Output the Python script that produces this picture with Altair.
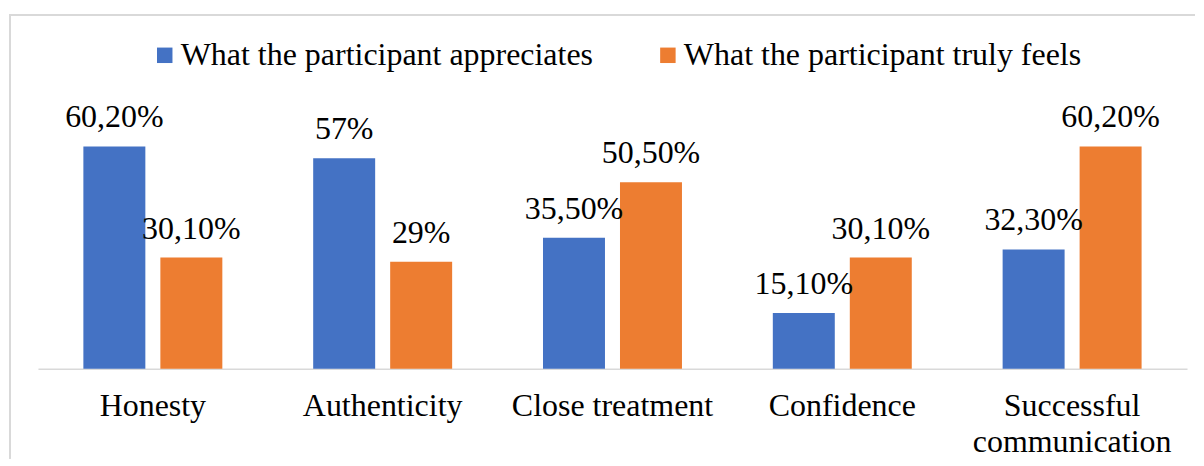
import altair as alt
import pandas as pd

categories = ["Honesty", "Authenticity", "Close treatment", "Confidence", "Successful communication"]
series = ["What the participant appreciates", "What the participant truly feels"]
appreciates = [60.2, 57.0, 35.5, 15.1, 32.3]
truly_feels = [30.1, 29.0, 50.5, 30.1, 60.2]
appreciates_labels = ["60,20%", "57%", "35,50%", "15,10%", "32,30%"]
truly_feels_labels = ["30,10%", "29%", "50,50%", "30,10%", "60,20%"]
colors = ["#4472C4", "#ED7D31"]

rows = []
for i, c in enumerate(categories):
    rows.append({"category": c, "series": series[0], "value": appreciates[i], "label": appreciates_labels[i]})
    rows.append({"category": c, "series": series[1], "value": truly_feels[i], "label": truly_feels_labels[i]})
df = pd.DataFrame(rows)

FONT = "'Liberation Serif', 'Times New Roman', Times, serif"
FS = 32
W, H = 1188, 445

x = alt.X(
    "category:N",
    sort=categories,
    scale=alt.Scale(range=[29, 1180], paddingInner=0, paddingOuter=0),
    axis=alt.Axis(
        title=None, ticks=False, grid=False, labelAngle=0, offset=-90,
        domainColor="#d9d9d9", domainWidth=1.5,
        labelFont=FONT, labelFontSize=FS, labelColor="#000000",
        labelBaseline="top", labelPadding=22, labelLineHeight=36, labelLimit=0,
        labelExpr="datum.label == 'Successful communication' ? ['Successful', 'communication'] : datum.label",
    ),
)
xoff = alt.XOffset("series:N", sort=series, scale=alt.Scale(paddingInner=0.195, paddingOuter=0.59))
y = alt.Y("value:Q", scale=alt.Scale(domain=[-24.324, 95.946], nice=False, zero=False), axis=None)

bars = alt.Chart(df).mark_bar().encode(
    x=x,
    xOffset=xoff,
    y=y,
    y2=alt.datum(0),
    color=alt.Color(
        "series:N",
        sort=series,
        scale=alt.Scale(domain=series, range=colors),
        legend=alt.Legend(
            title=None, orient="none", legendX=140, legendY=25, direction="horizontal",
            symbolType="square", symbolSize=240, symbolStrokeWidth=0,
            labelFont=FONT, labelFontSize=FS, labelColor="#000000", labelOffset=0,
            labelLimit=0, columnPadding=58, padding=0,
        ),
    ),
)

texts = alt.Chart(df).mark_text(font=FONT, fontSize=FS, color="#000000", baseline="alphabetic", dy=-19).encode(
    x=x,
    xOffset=xoff,
    y=y,
    text="label:N",
)

frame_top = alt.Chart(df).mark_rule(color="#d9d9d9", strokeWidth=1.5).encode(
    x=alt.value(0), x2=alt.value(W), y=alt.value(0.75)
)
frame_left = alt.Chart(df).mark_rule(color="#d9d9d9", strokeWidth=1.5).encode(
    x=alt.value(0.75), y=alt.value(0), y2=alt.value(H)
)

chart = alt.layer(frame_top, frame_left, bars, texts).properties(
    width=W, height=H, padding={"left": 0, "top": 5, "right": 0, "bottom": 0},
    background="#ffffff",
).configure_view(stroke=None)

chart.save("out.html", embed_options={"renderer": "svg", "actions": False})
